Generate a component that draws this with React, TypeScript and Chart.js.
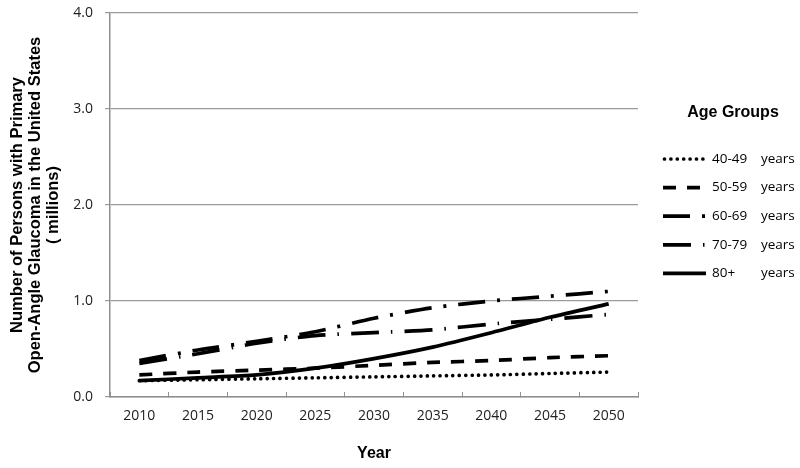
import React, { useEffect, useRef } from "react";
import { Chart, registerables } from "chart.js";

Chart.register(...registerables);

const years = ["2010", "2015", "2020", "2025", "2030", "2035", "2040", "2045", "2050"];
const ageGroups = ["40-49", "50-59", "60-69", "70-79", "80+"];
const ageSuffix = "years";
const legendTitle = "Age Groups";
const yTitle = ["Number of Persons with Primary", "Open-Angle Glaucoma in the United States", "( millions)"];
const xTitle = "Year";

const age40 = [0.17, 0.18, 0.19, 0.2, 0.21, 0.22, 0.23, 0.245, 0.26];
const age50 = [0.23, 0.26, 0.28, 0.3, 0.33, 0.36, 0.38, 0.41, 0.43];
const age60 = [0.38, 0.49, 0.58, 0.68, 0.82, 0.93, 1.0, 1.05, 1.1];
const age70 = [0.35, 0.45, 0.56, 0.64, 0.67, 0.7, 0.76, 0.81, 0.86];
const age80 = [0.17, 0.2, 0.23, 0.3, 0.4, 0.52, 0.67, 0.83, 0.97];

const seriesValues = [age40, age50, age60, age70, age80];
const dashes: number[][] = [[0, 6.4], [13, 11], [27, 12, 3, 12], [28, 12, 1.5, 12], []];
const caps = ["round", "butt", "butt", "butt", "butt"];

const legendPlugin = {
  id: "ageLegend",
  afterDraw(chart: any) {
    const ctx = chart.ctx;
    const area = chart.chartArea;
    const x0 = area.right + 25;
    ctx.save();
    ctx.fillStyle = "#000";
    ctx.font = "bold 16px 'Liberation Sans', Arial, sans-serif";
    ctx.textAlign = "center";
    ctx.textBaseline = "middle";
    ctx.fillText(legendTitle, area.right + 95, area.top + 100);
    ctx.font = "13.5px 'Open Sans', sans-serif";
    ctx.textAlign = "left";
    chart.data.datasets.forEach((ds: any, i: number) => {
      const y = area.top + 146 + i * 28.6;
      ctx.save();
      ctx.strokeStyle = ds.borderColor;
      ctx.lineWidth = ds.borderWidth;
      ctx.lineCap = ds.borderCapStyle;
      ctx.setLineDash(ds.borderDash);
      ctx.beginPath();
      ctx.moveTo(x0 + (ds.borderCapStyle === "round" ? 1.5 : 0), y);
      ctx.lineTo(x0 + 43, y);
      ctx.stroke();
      ctx.restore();
      ctx.fillStyle = "#000";
      ctx.fillText(ds.label, x0 + 49, y);
      ctx.fillText(ageSuffix, x0 + 98, y);
    });
    ctx.restore();
  },
};

export default function App() {
  const ref = useRef<HTMLCanvasElement>(null);
  useEffect(() => {
    document.body.style.margin = "0";
    const chart = new Chart(ref.current!, {
      type: "line",
      data: {
        labels: years,
        datasets: seriesValues.map((vals, i) => ({
          label: ageGroups[i],
          data: vals,
          borderColor: "#000",
          backgroundColor: "#000",
          borderWidth: 3.7,
          borderDash: dashes[i],
          borderCapStyle: caps[i] as any,
          pointRadius: 0,
          tension: 0.25,
          fill: false,
        })),
      },
      options: {
        animation: false,
        responsive: false,
        layout: { padding: { left: 0, right: 162, top: 13, bottom: 0 } },
        plugins: { legend: { display: false }, tooltip: { enabled: false } },
        scales: {
          x: {
            offset: true,
            grid: { offset: true, drawOnChartArea: false, drawTicks: true, tickLength: -5, color: "#8f8f8f", lineWidth: 1 },
            border: { color: "#8f8f8f", width: 1.5 },
            ticks: { color: "#222", font: { family: "'Open Sans', sans-serif", size: 14 }, padding: 16, maxRotation: 0 },
            title: { display: true, text: xTitle, color: "#000", font: { family: "'Liberation Sans', Arial, sans-serif", size: 16, weight: "bold" }, padding: { top: 0, bottom: 5 } },
            afterFit: (s: any) => { s.height = 71; s.paddingLeft = 0; s.paddingRight = 0; },
          },
          y: {
            min: 0,
            max: 4,
            grid: { color: "#9a9a9a", lineWidth: 1.2, tickLength: 5 },
            border: { color: "#8f8f8f", width: 1.5 },
            ticks: { stepSize: 1, color: "#222", padding: 12, font: { family: "'Open Sans', sans-serif", size: 14 }, callback: (v: any) => Number(v).toFixed(1) },
            title: { display: true, text: yTitle, color: "#000", font: { family: "'Liberation Sans', Arial, sans-serif", size: 16.5, weight: "bold", lineHeight: 1.1 }, padding: { top: 8, bottom: 0 } },
            afterFit: (s: any) => { s.width = 110; s.paddingTop = 0; s.paddingBottom = 0; },
          },
        },
      },
      plugins: [legendPlugin],
    });
    return () => chart.destroy();
  }, []);
  return (
    <div style={{ width: 800, height: 468, background: "#fff" }}>
      <canvas ref={ref} width={800} height={468} style={{ display: "block" }} />
    </div>
  );
}
